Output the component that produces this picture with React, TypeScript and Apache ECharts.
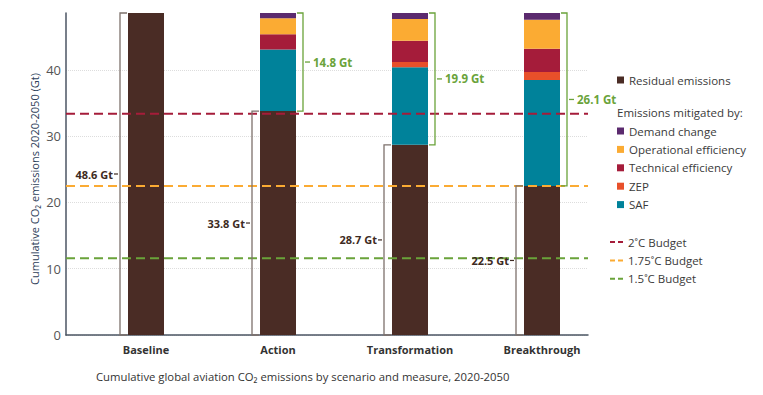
import React, { useEffect, useRef } from 'react';
import * as echarts from 'echarts';

const categories = ['Baseline', 'Action', 'Transformation', 'Breakthrough'];
const residual = [48.6, 33.8, 28.7, 22.5];
const saf = [0, 9.3, 11.7, 16.0];
const zep = [0, 0, 0.8, 1.2];
const technical = [0, 2.3, 3.2, 3.5];
const operational = [0, 2.4, 3.3, 4.4];
const demand = [0, 0.8, 0.9, 1.0];
const mitigatedTotals = [0, 14.8, 19.9, 26.1];
const budgetNames = ['2˚C Budget', '1.75˚C Budget', '1.5˚C Budget'];
const budgetValues = [33.4, 22.5, 11.6];
const yTicks = [0, 10, 20, 30, 40];

const FONT = '"Open Sans", "Noto Sans", sans-serif';
const Y_MAX = 48.6;

const colors = {
  residual: '#4a2c25',
  saf: '#00829a',
  zep: '#e8502a',
  technical: '#a51c3a',
  operational: '#fbab33',
  demand: '#5b2a6e',
};
const budgetColors = ['#a51c3a', '#fbab33', '#6aa33a'];

function buildOption() {
  const stackSeries = [
    { name: 'Residual emissions', data: residual, color: colors.residual },
    { name: 'SAF', data: saf, color: colors.saf },
    { name: 'ZEP', data: zep, color: colors.zep },
    { name: 'Technical efficiency', data: technical, color: colors.technical },
    { name: 'Operational efficiency', data: operational, color: colors.operational },
    { name: 'Demand change', data: demand, color: colors.demand },
  ].map((s) => ({
    name: s.name,
    type: 'bar',
    stack: 'total',
    xAxisIndex: 0,
    yAxisIndex: 0,
    barWidth: 36,
    itemStyle: { color: s.color },
    data: s.data,
  }));

  const budgetSeries = budgetNames.map((name, k) => ({
    name,
    type: 'line',
    symbol: 'none',
    xAxisIndex: 1,
    yAxisIndex: 1,
    z: 5,
    lineStyle: { color: budgetColors[k], width: 2, type: [9, 5] },
    itemStyle: { color: budgetColors[k] },
    data: [
      [0, budgetValues[k]],
      [1, budgetValues[k]],
    ],
  }));

  const bracketSeries = {
    type: 'custom',
    xAxisIndex: 0,
    yAxisIndex: 0,
    z: 6,
    silent: true,
    encode: { x: 0, y: 1 },
    data: categories.map((_, i) => [i, residual[i], mitigatedTotals[i]]),
    renderItem: (params: any, api: any) => {
      const i = api.value(0);
      const r = api.value(1);
      const m = api.value(2);
      const base = api.coord([i, 0]);
      const top = api.coord([i, r]);
      const full = api.coord([i, r + m]);
      const gx = base[0] - 26;
      const mid = (base[1] + top[1]) / 2;
      const stroke = '#7d716c';
      const children: any[] = [
        {
          type: 'polyline',
          shape: { points: [[gx + 7, top[1]], [gx, top[1]], [gx, base[1]], [gx + 7, base[1]]] },
          style: { stroke, lineWidth: 1.3, fill: null },
        },
        {
          type: 'line',
          shape: { x1: gx - 6, y1: mid, x2: gx - 2, y2: mid },
          style: { stroke: '#3d2a22', lineWidth: 1.2 },
        },
        {
          type: 'text',
          x: gx - 7,
          y: mid,
          style: {
            text: r.toFixed(1) + ' Gt',
            fill: '#3d2a22',
            fontSize: 11,
            fontWeight: 'bold',
            fontFamily: FONT,
            align: 'right',
            verticalAlign: 'middle',
          },
        },
      ];
      if (m > 0) {
        const rx = base[0] + 25;
        const gmid = (top[1] + full[1]) / 2;
        const green = '#6aa33a';
        children.push(
          {
            type: 'polyline',
            shape: { points: [[rx - 6, full[1]], [rx, full[1]], [rx, top[1]], [rx - 6, top[1]]] },
            style: { stroke: green, lineWidth: 1.3, fill: null },
          },
          {
            type: 'line',
            shape: { x1: rx + 2, y1: gmid, x2: rx + 7, y2: gmid },
            style: { stroke: green, lineWidth: 1.3 },
          },
          {
            type: 'text',
            x: rx + 10,
            y: gmid,
            style: {
              text: m.toFixed(1) + ' Gt',
              fill: green,
              fontSize: 11.5,
              fontWeight: 'bold',
              fontFamily: FONT,
              align: 'left',
              verticalAlign: 'middle',
            },
          }
        );
      }
      return { type: 'group', children };
    },
  };

  const legendText = { color: '#3a3a3a', fontSize: 11.5, fontFamily: FONT, lineHeight: 14 };
  const dashIcon = 'path://M0,0h5v2h-5z M8,0h5v2h-5z';

  return {
    animation: false,
    textStyle: { fontFamily: FONT },
    grid: [
      { left: 80, right: 155, top: 13, bottom: 60 },
      { left: 66, right: 175, top: 13, bottom: 60 },
    ],
    xAxis: [
      {
        type: 'category',
        gridIndex: 0,
        data: categories,
        axisLine: { show: false },
        axisTick: { show: false },
        splitLine: { show: false },
        axisLabel: {
          color: '#333',
          fontWeight: 'bold',
          fontSize: 11,
          fontFamily: FONT,
          margin: 9,
        },
      },
      {
        type: 'value',
        gridIndex: 1,
        min: 0,
        max: 1,
        axisLine: { show: true, lineStyle: { color: '#4b5563', width: 1.5 } },
        axisTick: { show: false },
        axisLabel: { show: false },
        splitLine: { show: false },
      },
    ],
    yAxis: [
      {
        type: 'value',
        gridIndex: 0,
        min: 0,
        max: Y_MAX,
        show: false,
      },
      {
        type: 'value',
        gridIndex: 1,
        min: 0,
        max: Y_MAX,
        axisLine: { show: true, lineStyle: { color: '#4b5563', width: 1.5 } },
        axisTick: { show: false, customValues: yTicks },
        axisLabel: { customValues: yTicks, color: '#555', fontSize: 13, fontFamily: FONT, margin: 5 },
        splitLine: { show: true, lineStyle: { color: '#dddddd', type: 'dotted', width: 1 } },
      },
    ],
    legend: [
      {
        data: [{ name: 'Residual emissions', icon: 'rect' }],
        orient: 'vertical',
        left: 617,
        top: 73,
        padding: 0,
        itemWidth: 7,
        itemHeight: 7,
        textStyle: legendText,
        selectedMode: false,
      },
      {
        data: ['Demand change', 'Operational efficiency', 'Technical efficiency', 'ZEP', 'SAF'].map((n) => ({
          name: n,
          icon: 'rect',
        })),
        orient: 'vertical',
        left: 617,
        top: 124,
        padding: 0,
        itemGap: 4.4,
        itemWidth: 7,
        itemHeight: 7,
        textStyle: legendText,
        selectedMode: false,
      },
      {
        data: budgetNames.map((n) => ({ name: n, icon: dashIcon })),
        orient: 'vertical',
        left: 610,
        top: 235,
        padding: 0,
        itemGap: 4.4,
        itemWidth: 13,
        itemHeight: 2,
        textStyle: legendText,
        selectedMode: false,
      },
    ],
    graphic: [
      {
        type: 'text',
        x: 34,
        y: 179,
        rotation: Math.PI / 2,
        style: {
          text: 'Cumulative CO₂ emissions 2020-2050 (Gt)',
          fill: '#2e4059',
          fontSize: 11,
          fontFamily: FONT,
          align: 'center',
          verticalAlign: 'middle',
        },
      },
      {
        type: 'text',
        left: 617,
        top: 106,
        style: { text: 'Emissions mitigated by:', fill: '#3a3a3a', fontSize: 11.5, fontFamily: FONT },
      },
      {
        type: 'text',
        left: 96,
        top: 371,
        style: {
          text: 'Cumulative global aviation CO₂ emissions by scenario and measure, 2020-2050',
          fill: '#333',
          fontSize: 11.3,
          fontFamily: FONT,
        },
      },
    ],
    series: [...stackSeries, ...budgetSeries, bracketSeries],
  };
}

export default function App() {
  const ref = useRef<HTMLDivElement>(null);
  useEffect(() => {
    const chart = echarts.init(ref.current!, null, { renderer: 'svg' });
    chart.setOption(buildOption() as any);
    return () => chart.dispose();
  }, []);
  return (
    <div
      ref={ref}
      style={{ position: 'absolute', left: 0, top: 0, width: 763, height: 395, background: '#fff' }}
    />
  );
}
